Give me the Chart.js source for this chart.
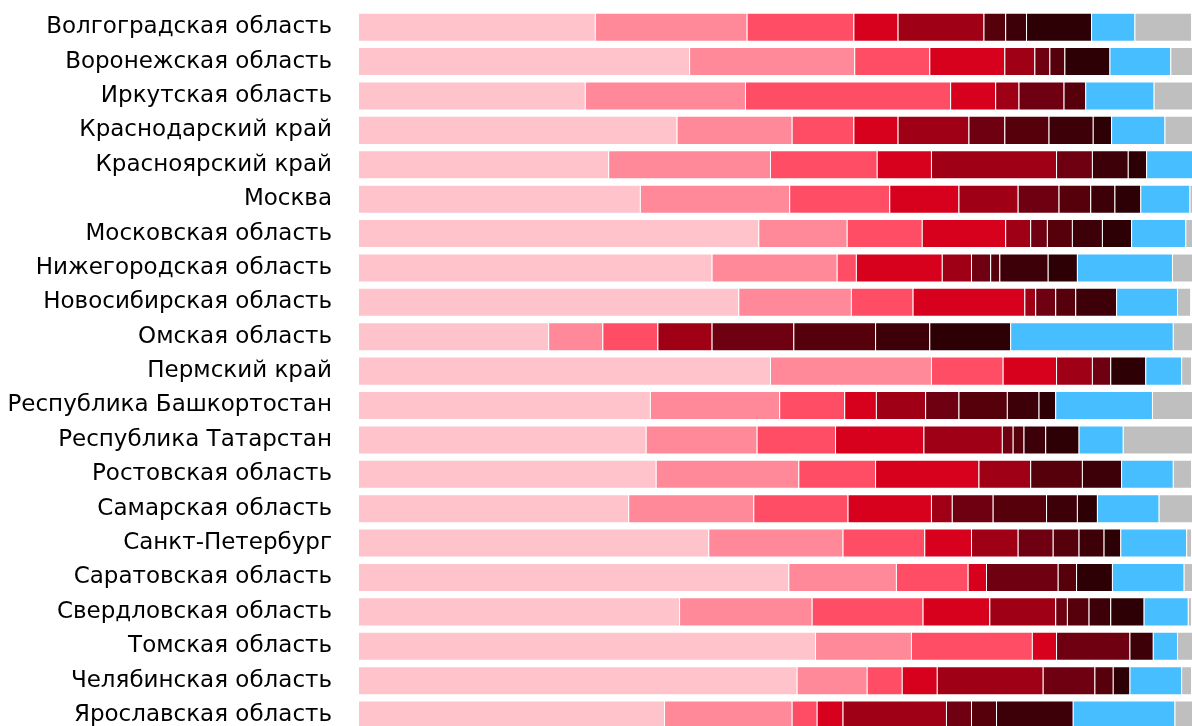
<!DOCTYPE html>
<html>
<head>
<meta charset="utf-8">
<script src="https://cdn.jsdelivr.net/npm/chart.js@4"></script>
<style>
  html, body { margin: 0; padding: 0; background: #fff; overflow: hidden; }
  #wrap { position: relative; width: 1192px; height: 738px; }
</style>
</head>
<body>
<div id="wrap"><canvas id="chart"></canvas></div>
<script>
// категории (регионы), сверху вниз
const regions = [
  'Волгоградская область', 'Воронежская область', 'Иркутская область',
  'Краснодарский край', 'Красноярский край', 'Москва', 'Московская область',
  'Нижегородская область', 'Новосибирская область', 'Омская область',
  'Пермский край', 'Республика Башкортостан', 'Республика Татарстан',
  'Ростовская область', 'Самарская область', 'Санкт-Петербург',
  'Саратовская область', 'Свердловская область', 'Томская область',
  'Челябинская область', 'Ярославская область'
];

const groupNames = ['1', '2', '3', '4', '5', '6', '7', '8', '9', '10', '11'];

const COLORS = [
  '#FFC3CC', '#FF8998', '#FF4D66', '#D7001D', '#A00016', '#6E0011',
  '#56000C', '#3D0008', '#2C0004', '#47BEFF', '#BFBFBF'
];

// доли, %
const g1  = [28.4, 39.7, 27.2, 38.2, 30.0, 33.8, 48.0, 42.4, 45.6, 22.8, 49.4, 35.0, 34.5, 35.7, 32.4, 42.0, 51.6, 38.5, 54.8, 52.6, 36.7];
const g2  = [18.2, 19.8, 19.2, 13.8, 19.4, 17.9, 10.6, 15.0, 13.5, 6.5, 19.3, 15.5, 13.3, 17.1, 15.0, 16.1, 12.9, 15.9, 11.5, 8.4, 15.3];
const g3  = [12.8, 9.0, 24.6, 7.4, 12.8, 12.0, 9.0, 2.3, 7.4, 6.6, 8.6, 7.8, 9.4, 9.2, 11.3, 9.8, 8.6, 13.3, 14.5, 4.2, 3.0];
const g4  = [5.3, 9.0, 5.4, 5.3, 6.5, 8.3, 10.0, 10.3, 13.4, 0, 6.4, 3.8, 10.6, 12.4, 10.0, 5.6, 2.2, 8.0, 2.9, 4.2, 3.1];
const g5  = [10.3, 3.6, 2.8, 8.5, 15.0, 7.1, 3.0, 3.5, 1.3, 6.5, 4.3, 5.9, 9.4, 6.2, 2.5, 5.6, 0, 7.9, 0, 12.7, 12.4];
const g6  = [0, 1.8, 5.4, 4.3, 4.3, 4.9, 2.0, 2.3, 2.4, 9.8, 2.2, 4.0, 1.3, 0, 4.9, 4.2, 8.6, 1.4, 8.8, 6.2, 3.0];
const g7  = [2.6, 1.8, 2.6, 5.3, 0, 3.8, 3.0, 1.1, 2.4, 9.8, 0, 5.8, 1.3, 6.2, 6.4, 3.1, 2.2, 2.6, 0, 2.2, 3.0];
const g8  = [2.5, 0, 0, 5.3, 4.3, 2.9, 3.6, 5.8, 4.9, 6.5, 0, 3.8, 2.6, 4.7, 3.7, 3.0, 0, 2.6, 2.8, 0, 9.2];
const g9  = [7.8, 5.4, 0, 2.2, 2.2, 3.1, 3.5, 3.5, 0, 9.7, 4.2, 2.0, 4.0, 0, 2.4, 2.0, 4.3, 4.0, 0, 2.0, 0];
const g10 = [5.2, 7.3, 8.2, 6.4, 5.5, 5.9, 6.5, 11.4, 7.3, 19.5, 4.3, 11.6, 5.3, 6.2, 7.4, 7.9, 8.6, 5.3, 2.9, 6.2, 12.2];
const g11 = [6.8, 2.6, 4.6, 3.4, 0, 0.5, 1.1, 2.5, 1.6, 2.3, 1.2, 4.9, 8.4, 2.2, 4.1, 0.6, 1.2, 0.4, 1.9, 1.2, 2.2];

const series = [g1, g2, g3, g4, g5, g6, g7, g8, g9, g10, g11];

const FONT = "'DejaVu Sans', sans-serif";

const datasets = series.map((data, i) => ({
  label: groupNames[i],
  data,
  backgroundColor: COLORS[i],
  borderColor: 'rgba(255,255,255,0.25)',
  borderWidth: { left: 1, top: 1, bottom: 1, right: 0 },
  borderSkipped: false,
  barPercentage: 0.845,
  categoryPercentage: 1,
}));

new Chart(document.getElementById('chart').getContext('2d'), {
  type: 'bar',
  data: { labels: regions, datasets },
  options: {
    indexAxis: 'y',
    responsive: true,
    maintainAspectRatio: false,
    animation: false,
    layout: { padding: { top: 10, right: 0, bottom: 0, left: 0 } },
    plugins: {
      legend: { display: false },
      tooltip: { enabled: false }
    },
    scales: {
      x: { stacked: true, display: false, min: 0, max: 100 },
      y: {
        stacked: true,
        grid: { display: false, drawTicks: true, tickLength: 26 },
        border: { display: false },
        ticks: {
          autoSkip: false,
          padding: 0,
          color: '#000',
          font: { family: FONT, size: 23, lineHeight: 0.5 }
        },
        afterFit: scale => { scale.width = 358; }
      }
    }
  }
});
</script>
</body>
</html>
